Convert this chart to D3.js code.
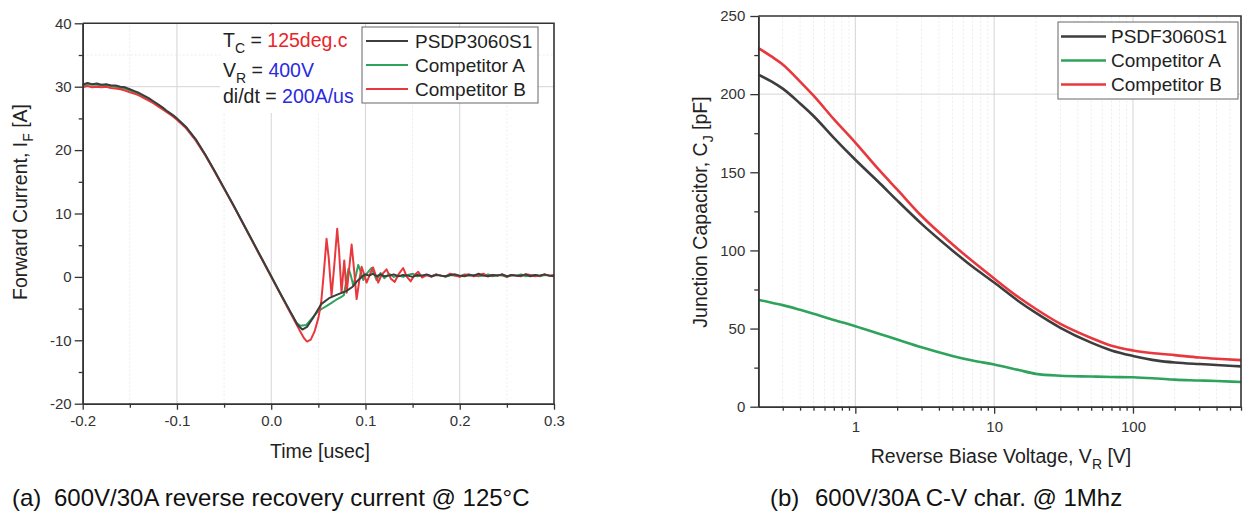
<!DOCTYPE html>
<html>
<head>
<meta charset="utf-8">
<script src="https://cdn.jsdelivr.net/npm/d3@7"></script>
<style>
body { margin: 0; background: #fff; }
text { font-family: "Liberation Sans", Arial, sans-serif; }
</style>
</head>
<body>
<script>
// ---- (a) reverse recovery current : time [usec], current [A]
let psdpMain = [[-0.2,30.3],[-0.195,30.6],[-0.19,30.4],[-0.185,30.5],[-0.18,30.3],[-0.175,30.4],[-0.17,30.2],[-0.165,30.2],
  [-0.16,30.0],[-0.155,29.9],[-0.15,29.6],[-0.145,29.3],[-0.14,29.0],[-0.135,28.6],[-0.13,28.2],[-0.125,27.7],[-0.12,27.2],
  [-0.115,26.7],[-0.11,26.1],[-0.105,25.6],[-0.1,25.0],[-0.09,23.6],[-0.08,21.7],[-0.07,19.3],[-0.06,16.7],[-0.05,14.0],
  [-0.04,11.3],[-0.03,8.5],[-0.02,5.7],[-0.01,2.9],[0,0.1],[0.01,-2.7],[0.02,-5.4],[0.028,-7.6],[0.033,-8.3],[0.038,-7.9],
  [0.045,-6.3],[0.053,-4.3],[0.062,-3.3],[0.07,-2.8],[0.08,-2.2],[0.086,-1.6],[0.091,-0.7],[0.096,0.0],[0.1,0.4],[0.104,0.2],
  [0.108,0.5],[0.112,0.1],[0.116,0.4],[0.12,0.1]];
let compAMain = [[-0.2,30.2],[-0.195,30.4],[-0.19,30.3],[-0.185,30.3],[-0.18,30.2],[-0.175,30.3],[-0.17,30.1],[-0.165,30.0],
  [-0.16,29.8],[-0.155,29.7],[-0.15,29.4],[-0.145,29.1],[-0.14,28.8],[-0.135,28.4],[-0.13,28.0],[-0.125,27.5],[-0.12,27.0],
  [-0.115,26.5],[-0.11,26.0],[-0.105,25.5],[-0.1,24.9],[-0.09,23.5],[-0.08,21.6],[-0.07,19.25],[-0.06,16.65],[-0.05,13.95],
  [-0.04,11.25],[-0.03,8.45],[-0.02,5.65],[-0.01,2.85],[0,0.05],[0.01,-2.75],[0.02,-5.5],[0.027,-7.3],[0.031,-7.7],[0.037,-7.6],
  [0.043,-6.6],[0.048,-5.7],[0.053,-5.1],[0.0585,-4.6],[0.064,-4.1],[0.069,-3.6],[0.074,-3.2],[0.077,-2.9],[0.0795,-0.8],
  [0.082,1.3],[0.0845,0.2],[0.087,-1.3],[0.0895,0.0],[0.0923,1.9],[0.095,0.8],[0.0976,-0.5],[0.1018,0.6],[0.104,1.0],
  [0.1065,1.4],[0.109,0.5],[0.1118,-0.5],[0.116,0.6],[0.12,-0.2],[0.125,0.5],[0.13,0.0]];
let compBMain = [[-0.2,29.9],[-0.195,30.1],[-0.19,29.9],[-0.185,30.0],[-0.18,29.9],[-0.175,30.0],[-0.17,29.8],[-0.165,29.7],
  [-0.16,29.6],[-0.155,29.4],[-0.15,29.1],[-0.145,28.9],[-0.14,28.6],[-0.135,28.2],[-0.13,27.8],[-0.125,27.4],[-0.12,26.9],
  [-0.115,26.4],[-0.11,25.9],[-0.105,25.4],[-0.1,24.8],[-0.09,23.4],[-0.08,21.5],[-0.07,19.2],[-0.06,16.6],[-0.05,13.9],
  [-0.04,11.2],[-0.03,8.4],[-0.02,5.6],[-0.01,2.8],[0,0.0],[0.01,-2.8],[0.02,-5.6],[0.03,-8.4],[0.035,-9.7],[0.038,-10.2],
  [0.042,-9.9],[0.046,-8.6],[0.05,-6.5],[0.053,-4.0],[0.056,1.0],[0.0587,6.0],[0.061,3.0],[0.064,-3.0],[0.067,2.0],[0.07,7.6],
  [0.072,4.0],[0.0746,-2.5],[0.0775,2.6],[0.08,-2.5],[0.0825,1.0],[0.0853,5.1],[0.088,1.0],[0.0906,-3.5],[0.0935,-0.5],
  [0.0959,1.6],[0.099,0.2],[0.1012,-0.9],[0.105,0.5],[0.108,1.5],[0.111,0.2],[0.1135,-0.9],[0.117,0.3],[0.1224,1.2],
  [0.127,-0.3],[0.131,-0.8],[0.135,0.4],[0.14,1.4],[0.144,0.0],[0.148,-0.7],[0.152,0.3],[0.156,0.8],[0.16,-0.1]];

// flat tails after recovery (time points and noisy current readings)
let tailTime = [0.125,0.13,0.135,0.14,0.145,0.15,0.155,0.16,0.165,0.17,0.175,0.18,0.185,0.19,0.195,0.2,0.205,0.21,
  0.215,0.22,0.225,0.23,0.235,0.24,0.245,0.25,0.255,0.26,0.265,0.27,0.275,0.28,0.285,0.29,0.295,0.3];
let psdpTail = [0.2,0.4,0.1,0.3,0.2,0.0,0.3,0.2,0.4,0.1,0.3,0.2,0.1,0.3,0.4,0.2,0.1,0.3,0.2,0.5,0.2,0.1,0.3,0.2,0.4,0.1,
  0.3,0.2,0.2,0.4,0.1,0.3,0.2,0.4,0.2,0.1];
let compATail = [0.2,0.0,0.3,0.5,0.1,0.2,0.3,0.1,0.4,0.2,0.0,0.3,0.2,0.1,0.4,0.2,0.3,0.1,0.2,0.4,0.1,0.3,0.2,0.0,0.3,
  0.2,0.4,0.1,0.2,0.3,0.1,0.3,0.2,0.2];
let compBTail = [0.3,0.0,0.4,0.2,0.1,0.5,0.2,0.0,0.3,0.4,0.1,0.2,0.5,0.1,0.3,0.2,0.4,0.0,0.3,0.2,0.1,0.4,0.3,0.1,0.2,
  0.4,0.2,0.3];

let xTicksA = [-0.2, -0.1, 0.0, 0.1, 0.2, 0.3];
let xMinorA = [-0.15, -0.05, 0.05, 0.15, 0.25];
let yTicksA = [-20, -10, 0, 10, 20, 30, 40];
let yMinorA = [-15, -5, 5, 15, 25, 35];

// ---- (b) C-V : reverse voltage [V], junction capacitance [pF]
let vr = [0.2,0.25,0.3,0.4,0.5,0.7,1,1.5,2,3,5,7,10,15,20,30,50,70,100,150,200,300,400,600];
let psdfCap = [212.5,208,203.5,194,186,172,158,143,132,117,100,89.5,79.5,67.5,60,50.5,41,36,32.5,29.5,28.3,27.3,26.7,25.8];
let compACap = [68.5,66.5,65,62,59.5,55.5,51.5,46.5,43,38,32.5,29.5,27,23.5,21,19.8,19.3,19,18.8,18,17.3,16.8,16.4,15.8];
let compBCap = [229.5,224,219,208,199,184,169,151,139,122,104,93,82,70,62.5,53,44,39,36,34,33,31.5,30.7,29.8];

let xTicksB = [1, 10, 100];
let xMinorB = [0.3,0.4,0.5,0.6,0.7,0.8,0.9,2,3,4,5,6,7,8,9,20,30,40,50,60,70,80,90,200,300,400,500,600];
let yTicksB = [0, 50, 100, 150, 200, 250];
let yMinorB = [25, 75, 125, 175, 225];

let names = ['PSDP3060S1', 'Competitor A', 'Competitor B'];
let namesB = ['PSDF3060S1', 'Competitor A', 'Competitor B'];
let colors = ['#3d3d3d', '#2fa35c', '#e8383d'];

let svg = d3.select('body').append('svg')
  .attr('width', 1244)
  .attr('height', 514);

function grid(g, scale, vals, horizontal, r0, r1, cls) {
  g.selectAll('line.' + cls).data(vals).enter().append('line')
    .attr('class', cls)
    .attr('x1', d => horizontal ? r0 : scale(d))
    .attr('x2', d => horizontal ? r1 : scale(d))
    .attr('y1', d => horizontal ? scale(d) : r0)
    .attr('y2', d => horizontal ? scale(d) : r1)
    .attr('stroke', cls == 'major' ? '#d4d4d4' : '#ececec')
    .attr('stroke-width', 1)
    .attr('stroke-dasharray', cls == 'major' ? null : '2,2');
}

function styleAxis(g) {
  g.select('.domain').attr('stroke', '#333').attr('stroke-width', 1.6);
  g.selectAll('.tick line').attr('stroke', '#333').attr('stroke-width', 1.3);
  g.selectAll('.tick text').attr('fill', '#333').style('font-size', '15px')
    .style('font-family', '"Liberation Sans", Arial, sans-serif');
}

// ================= chart (a)
let xA = d3.scaleLinear().domain([-0.2, 0.3]).range([82.7, 554]);
let yA = d3.scaleLinear().domain([-20, 40]).range([403.7, 23.3]);

let ga = svg.append('g');
grid(ga, xA, xMinorA, false, yA(-20), yA(40), 'minor');
grid(ga, yA, yMinorA, true, xA(-0.2), xA(0.3), 'minor');
grid(ga, xA, xTicksA.slice(1, -1), false, yA(-20), yA(40), 'major');
grid(ga, yA, yTicksA.slice(1, -1), true, xA(-0.2), xA(0.3), 'major');

// annotation background hides grid
ga.append('rect').attr('x', 220).attr('y', 25).attr('width', 142).attr('height', 88).attr('fill', '#fff');

let lineA = d3.line().x(d => xA(d[0])).y(d => yA(d[1]));
let seriesA = [
  psdpMain.concat(tailTime.map((t, i) => [t, psdpTail[i]])),
  compAMain.concat(tailTime.slice(2).map((t, i) => [t, compATail[i]])),
  compBMain.concat(tailTime.slice(8).map((t, i) => [t, compBTail[i]]))
];
[1, 2, 0].forEach(k => {
  ga.append('path').datum(seriesA[k])
    .attr('d', lineA)
    .attr('fill', 'none')
    .attr('stroke', colors[k])
    .attr('stroke-width', 2)
    .attr('stroke-linejoin', 'round');
});

let axA = ga.append('g').attr('transform', 'translate(0,' + yA(-20) + ')')
  .call(d3.axisBottom(xA).tickValues(xTicksA).tickFormat(d => d.toFixed(1)).tickSize(6).tickSizeOuter(0).tickPadding(6));
styleAxis(axA);
let axAm = ga.append('g').attr('transform', 'translate(0,' + yA(-20) + ')')
  .call(d3.axisBottom(xA).tickValues(xMinorA).tickFormat('').tickSize(4).tickSizeOuter(0));
styleAxis(axAm);
let ayA = ga.append('g').attr('transform', 'translate(' + xA(-0.2) + ',0)')
  .call(d3.axisLeft(yA).tickValues(yTicksA).tickFormat(d => String(d)).tickSize(8).tickSizeOuter(0).tickPadding(3));
styleAxis(ayA);
let ayAm = ga.append('g').attr('transform', 'translate(' + xA(-0.2) + ',0)')
  .call(d3.axisLeft(yA).tickValues(yMinorA).tickFormat('').tickSize(4).tickSizeOuter(0));
styleAxis(ayAm);

ga.append('path')
  .attr('d', 'M' + xA(-0.2) + ',' + yA(40) + 'H' + xA(0.3) + 'V' + yA(-20))
  .attr('fill', 'none').attr('stroke', '#333').attr('stroke-width', 1.6);

// annotation text
let notes = [
  {y: 47, a: 'T', sub: 'C', b: ' = ', v: '125deg.c', c: '#e8262a'},
  {y: 77, a: 'V', sub: 'R', b: ' = ', v: '400V', c: '#2a2ae0'},
  {y: 103, a: 'di/dt', sub: null, b: ' = ', v: '200A/us', c: '#2a2ae0'}
];
notes.forEach(n => {
  let t = ga.append('text').attr('x', 223).attr('y', n.y).style('font-size', '19.5px').attr('fill', '#222');
  t.append('tspan').text(n.a);
  if (n.sub) {
    t.append('tspan').attr('dy', 6).style('font-size', '14px').text(n.sub);
    t.append('tspan').attr('dy', -6).text(n.b);
  } else {
    t.append('tspan').text(n.b);
  }
  t.append('tspan').attr('fill', n.c).text(n.v);
});

// legend (a)
let lgA = ga.append('g');
lgA.append('rect').attr('x', 362).attr('y', 27).attr('width', 176).attr('height', 76)
  .attr('fill', '#fff').attr('stroke', '#666').attr('stroke-width', 1);
names.forEach((nm, i) => {
  let yy = 41 + i * 24;
  lgA.append('line').attr('x1', 366).attr('x2', 408).attr('y1', yy).attr('y2', yy)
    .attr('stroke', colors[i]).attr('stroke-width', 2);
  lgA.append('text').attr('x', 415).attr('y', yy + 6.5).style('font-size', '19px').attr('fill', '#222').text(nm);
});

// axis titles (a)
ga.append('text').attr('x', 320).attr('y', 458).attr('text-anchor', 'middle')
  .style('font-size', '19.5px').attr('fill', '#222').text('Time [usec]');
let ytA = ga.append('text').attr('transform', 'translate(27,202) rotate(-90)').attr('text-anchor', 'middle')
  .style('font-size', '19.5px').attr('fill', '#222');
ytA.append('tspan').text('Forward Current, I');
ytA.append('tspan').attr('dy', 6).style('font-size', '14px').text('F');
ytA.append('tspan').attr('dy', -6).text(' [A]');

// ================= chart (b)
let xB = d3.scaleLog().domain([0.2, 600]).range([758.3, 1241]);
let yB = d3.scaleLinear().domain([0, 250]).range([406.7, 16]);

let gb = svg.append('g');
grid(gb, xB, xMinorB.slice(0, -1), false, yB(0), yB(250), 'minor');
grid(gb, yB, yMinorB, true, xB(0.2), xB(600), 'minor');
grid(gb, xB, xTicksB, false, yB(0), yB(250), 'major');
grid(gb, yB, yTicksB.slice(1, -1), true, xB(0.2), xB(600), 'major');

let lineB = d3.line().x(d => xB(d[0])).y(d => yB(d[1])).curve(d3.curveMonotoneX);
let seriesB = [psdfCap, compACap, compBCap].map(s => vr.map((v, i) => [v, s[i]]));
[1, 0, 2].forEach(k => {
  gb.append('path').datum(seriesB[k])
    .attr('d', lineB)
    .attr('fill', 'none')
    .attr('stroke', colors[k])
    .attr('stroke-width', 2.6);
});

let axB = gb.append('g').attr('transform', 'translate(0,' + yB(0) + ')')
  .call(d3.axisBottom(xB).tickValues(xTicksB).tickFormat(d => String(d)).tickSize(7).tickSizeOuter(0).tickPadding(8));
styleAxis(axB);
let axBm = gb.append('g').attr('transform', 'translate(0,' + yB(0) + ')')
  .call(d3.axisBottom(xB).tickValues(xMinorB).tickFormat('').tickSize(4).tickSizeOuter(0));
styleAxis(axBm);
let ayB = gb.append('g').attr('transform', 'translate(' + xB(0.2) + ',0)')
  .call(d3.axisLeft(yB).tickValues(yTicksB).tickFormat(d => String(d)).tickSize(8).tickSizeOuter(0).tickPadding(5));
styleAxis(ayB);
let ayBm = gb.append('g').attr('transform', 'translate(' + xB(0.2) + ',0)')
  .call(d3.axisLeft(yB).tickValues(yMinorB).tickFormat('').tickSize(4).tickSizeOuter(0));
styleAxis(ayBm);

gb.append('path')
  .attr('d', 'M' + xB(0.2) + ',' + yB(250) + 'H' + xB(600) + 'V' + yB(0))
  .attr('fill', 'none').attr('stroke', '#333').attr('stroke-width', 1.6);

// legend (b)
let lgB = gb.append('g');
lgB.append('rect').attr('x', 1058).attr('y', 22).attr('width', 180).attr('height', 77)
  .attr('fill', '#fff').attr('stroke', '#666').attr('stroke-width', 1);
namesB.forEach((nm, i) => {
  let yy = 36.5 + i * 24;
  lgB.append('line').attr('x1', 1061).attr('x2', 1106).attr('y1', yy).attr('y2', yy)
    .attr('stroke', colors[i]).attr('stroke-width', 2.6);
  lgB.append('text').attr('x', 1111).attr('y', yy + 6.5).style('font-size', '19px').attr('fill', '#222').text(nm);
});

// axis titles (b)
let xtB = gb.append('text').attr('x', 1001).attr('y', 463).attr('text-anchor', 'middle')
  .style('font-size', '19.5px').attr('fill', '#222');
xtB.append('tspan').text('Reverse Biase Voltage, V');
xtB.append('tspan').attr('dy', 6).style('font-size', '14px').text('R');
xtB.append('tspan').attr('dy', -6).text(' [V]');
let ytB = gb.append('text').attr('transform', 'translate(707,212) rotate(-90)').attr('text-anchor', 'middle')
  .style('font-size', '19.5px').attr('fill', '#222');
ytB.append('tspan').text('Junction Capacitor, C');
ytB.append('tspan').attr('dy', 6).style('font-size', '14px').text('J');
ytB.append('tspan').attr('dy', -6).text(' [pF]');

// captions
svg.append('text').attr('x', 12).attr('y', 506).style('font-size', '24px').attr('fill', '#111').text('(a)');
svg.append('text').attr('x', 54).attr('y', 506).style('font-size', '24px').attr('fill', '#111')
  .text('600V/30A reverse recovery current @ 125°C');
svg.append('text').attr('x', 770).attr('y', 506).style('font-size', '24px').attr('fill', '#111').text('(b)');
svg.append('text').attr('x', 815).attr('y', 506).style('font-size', '24px').attr('fill', '#111')
  .text('600V/30A C-V char. @ 1Mhz');
</script>
</body>
</html>
